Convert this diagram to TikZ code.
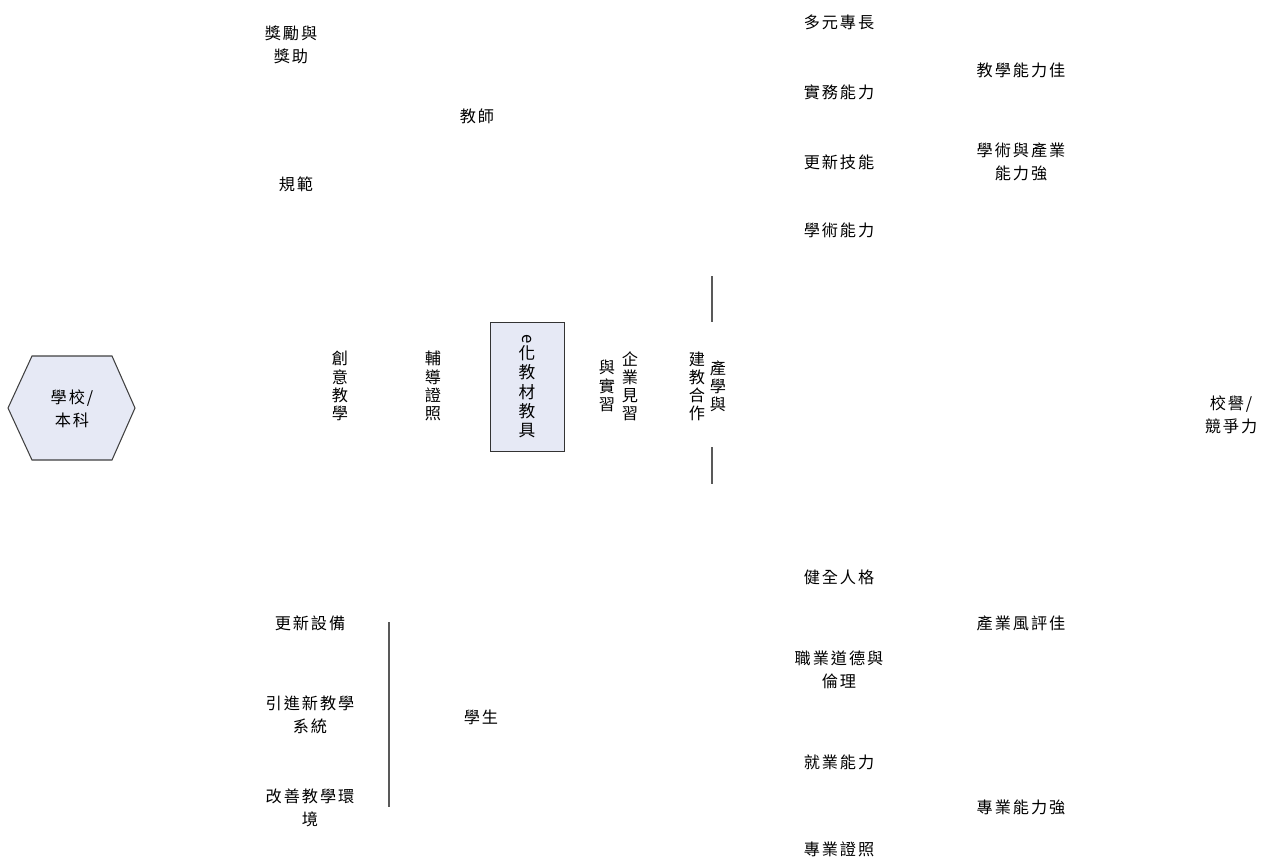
\documentclass[tikz,border=0pt]{standalone}
\usepackage{fontspec}
\usepackage{graphicx}
\newfontfamily\cjk[LetterSpace=12]{Noto Sans CJK TC}
\definecolor{panefill}{RGB}{230,233,245}
\tikzset{
	lbl/.style={font=\cjk\fontsize{9.2}{13}\selectfont, align=center, inner sep=0pt},
	vlbl/.style={lbl, font=\cjk\fontsize{9.2}{10.3}\selectfont},
	bone/.style={draw=black!65, line width=0.7pt},
}
\begin{document}
\begin{tikzpicture}[x=0.02cm, y=-0.02cm]
			\def\ColLeft{310}
			\def\ColMid{839}
			\def\ColRight{1021}
			\def\MidRow{386}
			\useasboundingbox (0,0) rectangle (1266,863);
				\filldraw[fill=panefill, draw=black!75, line width=0.6pt]
					(8,408) -- (32,356) -- (112,356) -- (135,408) -- (112,460) -- (32,460) -- cycle;
				\node[lbl] (school) at (72,409) {學校/\\本科};
				\node[lbl] (reward) at (291,45) {獎勵與\\獎助};
				\node[lbl] (teacher) at (477,116) {教師};
				\node[lbl] (rules) at (296,184) {規範};
				\node[vlbl] (creative) at (340,\MidRow) {創\\意\\教\\學};
				\node[vlbl] (license) at (433,\MidRow) {輔\\導\\證\\照};
				\node[vlbl, font=\cjk\fontsize{9.5}{11}\selectfont, draw=black!80, fill=panefill,
					minimum width=1.48cm, minimum height=2.58cm] (media) at (527,386.5)
					{\rotatebox{-90}{e}\\化\\教\\材\\教\\具};
				\node[vlbl] (visitA) at (630,\MidRow) {企\\業\\見\\習};
				\node[vlbl] (visitB) at (607,\MidRow) {與\\實\\習};
				\node[vlbl] (coopA) at (718,\MidRow) {產\\學\\與};
				\node[vlbl] (coopB) at (697,\MidRow) {建\\教\\合\\作};
				\node[lbl] (equip) at (\ColLeft,623) {更新設備};
				\node[lbl] (system) at (\ColLeft,715) {引進新教學\\系統};
				\node[lbl] (environ) at (\ColLeft,808) {改善教學環\\境};
				\node[lbl] (student) at (481,717) {學生};
				\node[lbl] (multi) at (\ColMid,22) {多元專長};
				\node[lbl] (practice) at (\ColMid,92) {實務能力};
				\node[lbl] (skills) at (\ColMid,162) {更新技能};
				\node[lbl] (academic) at (\ColMid,230) {學術能力};
				\node[lbl] (persona) at (\ColMid,577) {健全人格};
				\node[lbl] (ethics) at (\ColMid,670) {職業道德與\\倫理};
				\node[lbl] (employ) at (\ColMid,762) {就業能力};
				\node[lbl] (certs) at (\ColMid,849) {專業證照};
				\node[lbl] (teachgood) at (\ColRight,70) {教學能力佳};
				\node[lbl] (industry) at (\ColRight,162) {學術與產業\\能力強};
				\node[lbl] (repute) at (\ColRight,623) {產業風評佳};
				\node[lbl] (profess) at (\ColRight,807) {專業能力強};
				\node[lbl] (goal) at (1231,415) {校譽/\\競爭力};
				\coordinate (coopUpA) at (712,276);
				\coordinate (coopUpB) at (712,322);
				\coordinate (coopDnA) at (712,447);
				\coordinate (coopDnB) at (712,484);
				\coordinate (stuBoneA) at (389,622);
				\coordinate (stuBoneB) at (389,807);
				\draw[bone] (coopUpA) -- (coopUpB);
				\draw[bone] (coopDnA) -- (coopDnB);
				\draw[bone] (stuBoneA) -- (stuBoneB);
\end{tikzpicture}
\end{document}
